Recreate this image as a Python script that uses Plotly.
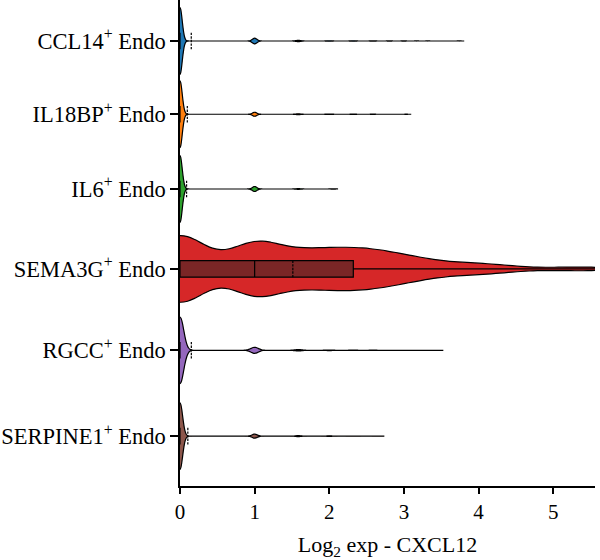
import numpy as np
import plotly.graph_objects as go

# ---- data: log2 expression levels and number of cells at each level ----
categories = ["CCL14", "IL18BP", "IL6", "SEMA3G", "RGCC", "SERPINE1"]
colors = ["#1f77b4", "#ff7f0e", "#2ca02c", "#d62728", "#9467bd", "#8c564b"]
box_colors = ["#16527d", "#b35a0a", "#1f701f", "#7a2626", "#67488a", "#623c35"]

ccl14_levels = [0, 1.0, 1.585, 2.0, 2.322, 2.585, 2.807, 3.0, 3.17, 3.32, 3.74]
ccl14_counts = [1000, 85, 20, 6, 5, 3, 2, 2, 1, 1, 1]

il18bp_levels = [0, 1.0, 1.585, 2.0, 2.322, 2.585, 3.03]
il18bp_counts = [1000, 60, 12, 6, 3, 2, 1]

il6_levels = [0, 1.0, 1.585, 2.05]
il6_counts = [800, 60, 8, 2]

sema3g_levels = [0, 1.0, 1.585, 2.0, 2.322, 2.585, 2.807, 3.0, 3.17, 3.32, 3.58, 3.81, 4.0, 4.25, 4.46, 5.17, 5.56]
sema3g_counts = [31, 23, 10, 9, 7, 6, 4, 3, 2, 2, 2, 1, 2, 1, 1, 1, 1]

rgcc_levels = [0, 1.0, 1.585, 2.0, 2.322, 2.585, 2.807, 3.0, 3.42]
rgcc_counts = [1000, 90, 20, 8, 5, 4, 2, 1, 1]

serpine1_levels = [0, 1.0, 1.585, 2.0, 2.322, 2.66]
serpine1_counts = [1000, 60, 15, 8, 4, 2]

bandwidths = [0.03, 0.03, 0.03, 0.34, 0.05, 0.035]
tick_labels = [f"{c}<sup>+</sup> Endo" for c in categories]
x_ticks = [0, 1, 2, 3, 4, 5]

# ---- layout helpers ----
positions = [0, 0.99, 2.0, 3.08, 4.18, 5.34]

all_levels = [ccl14_levels, il18bp_levels, il6_levels, sema3g_levels, rgcc_levels, serpine1_levels]
all_counts = [ccl14_counts, il18bp_counts, il6_counts, sema3g_counts, rgcc_counts, serpine1_counts]

fig = go.Figure()
for i, name in enumerate(categories):
    vals = np.repeat(np.array(all_levels[i], dtype=float), all_counts[i])
    fig.add_trace(go.Violin(
        x=vals,
        y0=positions[i],
        orientation="h",
        name=name,
        width=0.9,
        scalemode="width",
        bandwidth=bandwidths[i],
        points=False,
        fillcolor=colors[i],
        opacity=1,
        line=dict(color="black", width=1.2),
        box=dict(visible=True, width=0.25, fillcolor=box_colors[i],
                 line=dict(color="black", width=1.2)),
        meanline=dict(visible=True, color="black", width=1.2),
        hoverinfo="skip",
    ))

FONT = "Liberation Serif"
fig.update_layout(
    width=600, height=560,
    margin=dict(l=180, r=5, t=0, b=74),
    plot_bgcolor="white", paper_bgcolor="white",
    showlegend=False,
    violinmode="overlay",
    font=dict(family=FONT, color="black"),
    xaxis=dict(
        range=[0, 5.56], tickvals=x_ticks, ticktext=[str(t) for t in x_ticks],
        showline=True, linecolor="black", linewidth=1.5,
        ticks="outside", ticklen=6, tickwidth=1.5, tickcolor="black",
        showgrid=False, zeroline=False, automargin=False,
        tickfont=dict(size=21, family=FONT),
        title=dict(text="Log<sub>2</sub> exp - CXCL12", font=dict(size=22, family=FONT), standoff=14),
    ),
    yaxis=dict(
        range=[6.014, -0.554], tickvals=positions, ticktext=tick_labels,
        showline=True, linecolor="black", linewidth=1.5,
        ticks="outside", ticklen=8, tickwidth=1.5, tickcolor="black",
        showgrid=False, zeroline=False, automargin=False,
        tickfont=dict(size=22.5, family=FONT),
    ),
)

fig.write_html("out.html")
